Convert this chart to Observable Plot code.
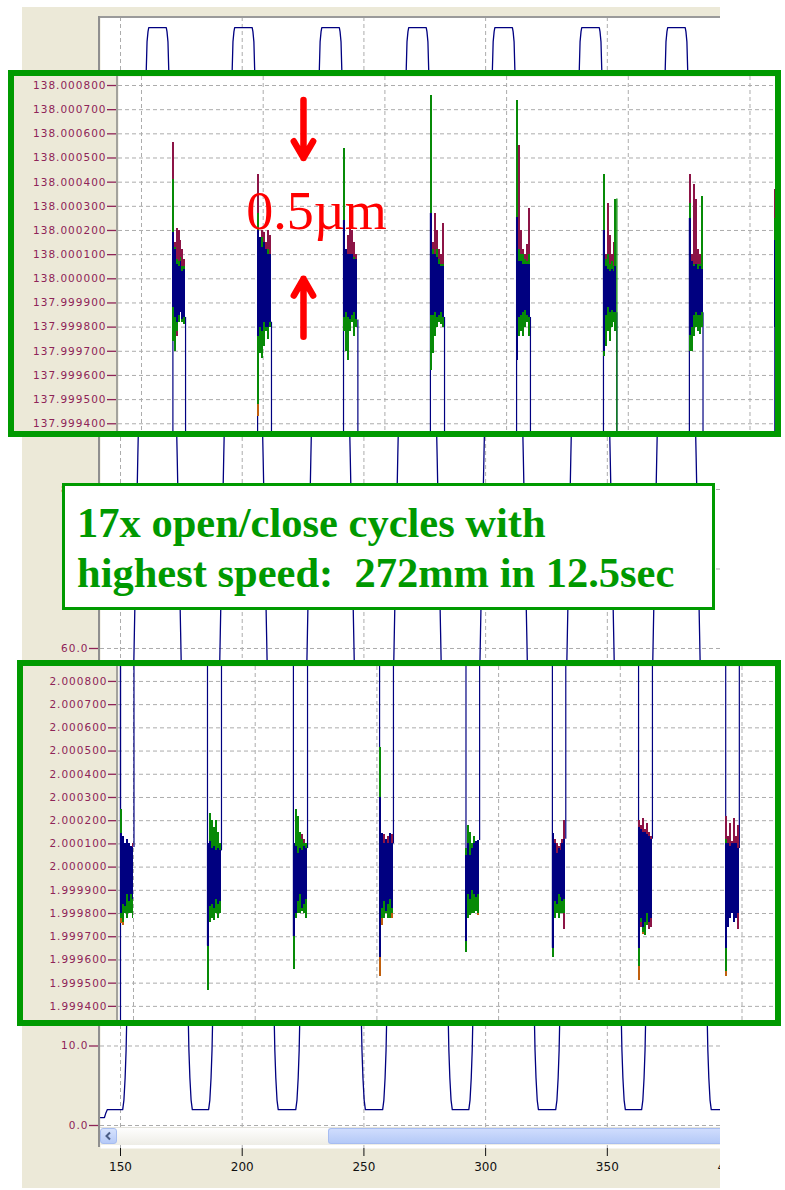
<!DOCTYPE html>
<html>
<head>
<meta charset="utf-8">
<script src="https://cdn.jsdelivr.net/npm/d3@7"></script>
<script src="https://cdn.jsdelivr.net/npm/@observablehq/plot@0.6"></script>
<style>
  body { margin: 0; background: #fff; }
  #page { position: relative; width: 785px; height: 1190px; overflow: hidden; background: #fff; }
  .abs { position: absolute; }
</style>
</head>
<body>
<div id="page"></div>
<script>
// ---------- main position trace (mm over time) ----------
const mainXTicks = [150, 200, 250, 300, 350, 400];
const mainXGrid = [150, 200, 250, 300, 350];
const mainYGrid = [0, 10, 20, 30, 40, 50, 60, 70, 80, 90, 100, 110, 120, 130];
// labels left uncovered by the zoom panels and the note
const mainYLabels = [0, 10, 60, 80];
const mainXDomain = [141.78, 396.5];
const mainYDomain = [-2.893, 139.37];

// start of the record: idle at ~1 mm, then parked at 2 mm
const startTrace = [[141.8, 1.0], [143.4, 1.0], [143.9, 1.5], [144.6, 2.0]];
// centre of each open (138 mm) plateau
const topCenters = [165.2, 200.5, 236.3, 272.0, 307.4, 343.1, 378.4];
// shape of one travel edge: offset from plateau centre -> position (mm)
const rampOffsets = [3.6, 3.9, 4.3, 4.6, 6.5, 8.1, 9.5, 11.0, 12.6, 12.9, 13.3, 13.8, 14.3];
const rampValues  = [138.1, 137.6, 136.3, 133.0, 107, 84, 62, 38, 14, 9.5, 6.0, 3.2, 2.0];
const traceEnd = [396.5, 2.0];

// ---------- upper zoom: 138 mm end position (deviation in µm) ----------
const upperNominal = 138;
const upperTickLabels = ["138.000800","138.000700","138.000600","138.000500","138.000400","138.000300",
  "138.000200","138.000100","138.000000","137.999900","137.999800","137.999700","137.999600",
  "137.999500","137.999400"];
const upperXDomain = [140.55, 410.48];
const upperYDomain = [-0.632, 0.8373];
const upperSpans = [[162.9,168.1],[197.7,203.4],[233.0,238.9],[268.7,274.5],[304.1,309.8],[339.8,345.3],[375.1,380.7],[410.2,410.6]];
const upperNavy = [
  [[-0.12,0.19],[-0.16,0.12],[-0.18,0.06],[-0.15,0.05],[-0.14,0.07],[-0.17,0.03],[-0.16,0.04]],
  [[-0.24,0.20],[-0.20,0.17],[-0.22,0.13],[-0.18,0.15],[-0.20,0.12],[-0.20,0.10],[-0.18,0.10]],
  [[-0.16,0.24],[-0.14,0.12],[-0.16,0.10],[-0.17,0.10],[-0.15,0.10],[-0.14,0.08],[-0.17,0.08]],
  [[-0.15,0.27],[-0.15,0.10],[-0.14,0.10],[-0.16,0.09],[-0.15,0.06],[-0.14,0.05],[-0.16,0.05]],
  [[-0.34,0.255],[-0.16,0.07],[-0.15,0.07],[-0.14,0.06],[-0.13,0.06],[-0.15,0.06],[-0.16,0.06]],
  [[-0.30,0.20],[-0.15,0.05],[-0.12,0.04],[-0.14,0.03],[-0.13,0.04],[-0.14,0.03],[-0.14,0.05]],
  [[-0.235,0.25],[-0.20,0.07],[-0.15,0.05],[-0.14,0.06],[-0.15,0.04],[-0.15,0.05],[-0.14,0.04]],
  [[-0.20,0.16]]
];
const upperGreen = [
  [[-0.26,0.41],[-0.30,0.13],[-0.22,0.08],[-0.18,0.07],[-0.12,0.09],[-0.18,0.05],[-0.19,0.05]],
  [[-0.52,0.27],[-0.31,0.10],[-0.33,0.17],[-0.28,0.12],[-0.22,0.10],[-0.25,0.12],[-0.20,0.08]],
  [[-0.22,0.54],[-0.30,0.10],[-0.34,0.09],[-0.22,0.10],[-0.18,0.08],[-0.24,0.09],[-0.20,0.07]],
  [[-0.38,0.76],[-0.31,0.12],[-0.24,0.10],[-0.20,0.12],[-0.18,0.08],[-0.19,0.06],[-0.20,0.06]],
  [[-0.32,0.74],[-0.24,0.12],[-0.22,0.10],[-0.24,0.10],[-0.20,0.08],[-0.18,0.07],[-0.24,0.10]],
  [[-0.32,0.43],[-0.28,0.08],[-0.22,0.10],[-0.26,0.06],[-0.20,0.07],[-0.18,0.05],[-0.22,0.33]],
  [[-0.30,0.31],[-0.30,0.07],[-0.24,0.06],[-0.20,0.05],[-0.22,0.06],[-0.23,0.06],[-0.20,0.34]],
  [[-0.20,0.25]]
];
const upperMaroon = [
  [[-0.14,0.565],[-0.20,0.15],[-0.24,0.21],[-0.16,0.20],[-0.14,0.16],[-0.17,0.12],[-0.17,0.08]],
  [[-0.20,0.43],[-0.22,0.14],[-0.20,0.20],[-0.19,0.19],[-0.20,0.15],[-0.20,0.20],[-0.18,0.18]],
  [[-0.14,0.30],[-0.16,0.12],[-0.18,0.18],[-0.20,0.24],[-0.16,0.20],[-0.14,0.15],[-0.15,0.10]],
  [[-0.15,0.30],[-0.20,0.15],[-0.24,0.27],[-0.18,0.20],[-0.16,0.12],[-0.15,0.10],[-0.17,0.23]],
  [[-0.16,0.20],[-0.18,0.55],[-0.17,0.20],[-0.16,0.12],[-0.15,0.10],[-0.16,0.14],[-0.18,0.29]],
  [[-0.14,0.20],[-0.16,0.10],[-0.14,0.31],[-0.15,0.18],[-0.14,0.10],[-0.15,0.15],[-0.15,0.08]],
  [[-0.14,0.43],[-0.17,0.10],[-0.16,0.39],[-0.16,0.33],[-0.15,0.12],[-0.14,0.10],[-0.15,0.08]],
  [[-0.20,0.37]]
];
// [cycle, column, low, high]
const upperOrange = [[1, 0, -0.57, -0.50]];
// cycles whose closing move is traced in green on top
const upperGreenExit = [5];

// ---------- lower zoom: 2 mm end position (deviation in µm) ----------
const lowerNominal = 2;
const lowerTickLabels = ["2.000800","2.000700","2.000600","2.000500","2.000400","2.000300","2.000200",
  "2.000100","2.000000","1.999900","1.999800","1.999700","1.999600","1.999500","1.999400"];
const lowerXDomain = [143.84, 413.76];
const lowerYDomain = [-0.6609, 0.8643];
const lowerSpans = [[144.66,150.2],[180.4,186.15],[215.7,221.5],[251.1,256.8],[286.6,292.2],[322.1,327.6],[357.5,363.2],[393.3,398.9]];
const lowerNavy = [
  [[-0.20,0.145],[-0.16,0.13],[-0.17,0.10],[-0.12,0.12],[-0.15,0.10],[-0.12,0.09],[-0.14,0.085]],
  [[-0.34,0.10],[-0.17,0.11],[-0.16,0.08],[-0.18,0.09],[-0.14,0.07],[-0.16,0.08],[-0.15,0.07]],
  [[-0.30,0.10],[-0.20,0.09],[-0.15,0.06],[-0.12,0.08],[-0.18,0.07],[-0.16,0.09],[-0.14,0.08]],
  [[-0.39,0.30],[-0.18,0.145],[-0.15,0.10],[-0.19,0.12],[-0.16,0.10],[-0.14,0.145],[-0.18,0.10]],
  [[-0.32,0.05],[-0.12,0.10],[-0.14,0.05],[-0.10,0.08],[-0.12,0.10],[-0.13,0.11],[-0.12,0.115]],
  [[-0.35,0.145],[-0.15,0.10],[-0.16,0.06],[-0.12,0.08],[-0.13,0.07],[-0.15,0.10],[-0.14,0.12]],
  [[-0.35,0.17],[-0.22,0.16],[-0.26,0.15],[-0.24,0.15],[-0.20,0.14],[-0.24,0.13],[-0.22,0.12]],
  [[-0.35,0.10],[-0.26,0.10],[-0.22,0.09],[-0.20,0.10],[-0.24,0.10],[-0.22,0.10],[-0.20,0.08]]
];
const lowerGreen = [
  [[-0.22,0.25],[-0.24,0.08],[-0.20,0.07],[-0.22,0.06],[-0.20,0.07],[-0.20,0.06],[-0.22,0.05]],
  [[-0.53,0.10],[-0.24,0.23],[-0.22,0.20],[-0.23,0.17],[-0.20,0.20],[-0.22,0.15],[-0.20,0.10]],
  [[-0.44,0.10],[-0.22,0.25],[-0.20,0.22],[-0.20,0.15],[-0.19,0.12],[-0.20,0.10],[-0.22,0.10]],
  [[-0.20,0.515],[-0.22,0.08],[-0.22,0.06],[-0.20,0.06],[-0.22,0.07],[-0.22,0.07],[-0.20,0.06]],
  [[-0.37,0.08],[-0.22,0.18],[-0.21,0.15],[-0.20,0.10],[-0.20,0.13],[-0.19,0.08],[-0.20,0.07]],
  [[-0.39,0.10],[-0.22,0.08],[-0.20,0.06],[-0.22,0.06],[-0.20,0.06],[-0.20,0.07],[-0.20,0.08]],
  [[-0.43,0.10],[-0.24,0.10],[-0.28,0.10],[-0.295,0.09],[-0.25,0.10],[-0.24,0.10],[-0.22,0.08]],
  [[-0.45,0.12],[-0.23,0.10],[-0.20,0.08],[-0.20,0.09],[-0.22,0.09],[-0.21,0.08],[-0.20,0.06]]
];
const lowerMaroon = [
  [[-0.18,0.10],[-0.16,0.10],[-0.18,0.09],[-0.14,0.10],[-0.17,0.10],[-0.16,0.09],[-0.15,0.10]],
  [[-0.15,0.10],[-0.16,0.10],[-0.17,0.12],[-0.16,0.16],[-0.15,0.12],[-0.14,0.10],[-0.15,0.08]],
  [[-0.15,0.09],[-0.15,0.10],[-0.14,0.10],[-0.14,0.10],[-0.16,0.14],[-0.15,0.12],[-0.15,0.10]],
  [[-0.15,0.10],[-0.16,0.12],[-0.17,0.14],[-0.16,0.12],[-0.16,0.13],[-0.17,0.145],[-0.16,0.14]],
  [[-0.14,0.05],[-0.14,0.08],[-0.15,0.07],[-0.13,0.08],[-0.14,0.07],[-0.15,0.08],[-0.19,0.09]],
  [[-0.14,0.145],[-0.15,0.12],[-0.14,0.10],[-0.14,0.09],[-0.15,0.10],[-0.20,0.12],[-0.27,0.20]],
  [[-0.22,0.20],[-0.26,0.18],[-0.25,0.21],[-0.24,0.16],[-0.23,0.19],[-0.27,0.15],[-0.26,0.13]],
  [[-0.20,0.22],[-0.22,0.13],[-0.20,0.19],[-0.20,0.11],[-0.22,0.21],[-0.20,0.13],[-0.27,0.18]]
];
const lowerOrange = [[0,0,-0.245,-0.20],[0,1,-0.25,-0.20],[3,0,-0.47,-0.35],[3,1,-0.25,-0.20],[3,6,-0.22,-0.10],
  [4,6,-0.21,-0.10],[6,0,-0.49,-0.40],[6,2,-0.29,-0.24],[7,0,-0.47,-0.40]];
// moves that cross the whole 2 mm window
const lowerPassLines = [144.66];

const insetXGrid = [150, 200, 250, 300, 350, 400];

// 0.5 µm bracket on the upper zoom
const bracketLow = 0.0, bracketHigh = 0.5, bracketTail = 0.24;
const bracketX = 216.55;
const bracketLabel = {text: "0.5µm", x: 221.9, y: 0.208};

const noteLines = ["17x open/close cycles with", "highest speed:  272mm in 12.5sec"];

// ---------- styling ----------
const beige = "#ECE9D8";
const gridColor = "#acacac";
const maroon = "#8e2457";
const navy = "#000080";
const green = "#078a07";
const maroonTrace = "#8c1446";
const orange = "#c0600e";
const boxGreen = "#009a00";
const labelFont = "DejaVu Sans";

const page = document.getElementById("page");
function div(style, parent = page) {
  const d = document.createElement("div");
  d.className = "abs";
  Object.assign(d.style, style);
  parent.appendChild(d);
  return d;
}
function spaceLabels(svg) {
  svg.querySelectorAll('g[aria-label="y-axis tick label"]').forEach(g => g.setAttribute("letter-spacing", "1"));
}

// window background
div({left: "22px", top: "7px", width: "698px", height: "1181px", background: beige});

// ---------- main chart ----------
const trace = startTrace.map(([t, v]) => ({t, v}));
for (const c of topCenters) {
  for (let k = rampOffsets.length - 1; k >= 0; k--) trace.push({t: c - rampOffsets[k], v: rampValues[k]});
  for (let k = 0; k < rampOffsets.length; k++) trace.push({t: c + rampOffsets[k], v: rampValues[k]});
}
trace.push({t: traceEnd[0], v: traceEnd[1]});

const mainWrap = div({left: "0px", top: "0px", width: "720px", height: "1188px", overflow: "hidden"});
const mainPlot = Plot.plot({
  width: 720, height: 1188,
  marginLeft: 100, marginRight: 0, marginTop: 17, marginBottom: 40,
  x: {domain: mainXDomain, label: null},
  y: {domain: mainYDomain, label: null},
  style: {background: "transparent", overflow: "hidden"},
  marks: [
    Plot.frame({fill: "white", stroke: "none"}),
    Plot.gridY(mainYGrid, {stroke: gridColor, strokeOpacity: 1, strokeDasharray: "4,3"}),
    Plot.gridX(mainXGrid, {stroke: gridColor, strokeOpacity: 1, strokeDasharray: "4,3"}),
    Plot.axisY(mainYLabels, {tickSize: 11, tickPadding: 1, tickFormat: d3.format(".1f"), color: maroon,
      strokeWidth: 1.3, fontSize: 10.5, fontFamily: labelFont}),
    Plot.axisX(mainXTicks, {tickSize: 8, tickPadding: 6, color: "#111", fontSize: 12, fontFamily: labelFont}),
    Plot.line(trace, {x: "t", y: "v", stroke: navy, strokeWidth: 1.3, clip: true})
  ]
});
spaceLabels(mainPlot);
mainWrap.appendChild(mainPlot);

// plot window borders and scroll bar
div({left: "98px", top: "16px", width: "622px", height: "1.5px", background: "#9a9a9a"});
div({left: "98px", top: "16px", width: "2px", height: "1131px", background: "#8f8f8f"});
div({left: "100px", top: "1127px", width: "620px", height: "18px",
  background: "linear-gradient(#fefefe, #eeede6)", borderTop: "1px solid #e2e1da", boxSizing: "border-box"});
const btn = div({left: "100px", top: "1128px", width: "17px", height: "16px", borderRadius: "3px",
  background: "linear-gradient(#d6e2fd, #b6caf7)", border: "1px solid #a7bdf0", boxSizing: "border-box"});
btn.innerHTML = '<svg width="15" height="14" style="display:block"><polyline points="9,3.5 5.5,7 9,10.5" fill="none" stroke="#4a5d86" stroke-width="2"/></svg>';
div({left: "328px", top: "1128px", width: "392px", height: "16px", borderRadius: "3px 0 0 3px",
  background: "linear-gradient(#cfdcfd, #b4c9f7)", borderTop: "1px solid #a7bdf1", borderBottom: "1px solid #a7bdf1",
  borderLeft: "1px solid #a7bdf1", boxSizing: "border-box"});

// ---------- zoom insets ----------
function columnRects(spans, series) {
  const out = [];
  spans.forEach(([t0, t1], c) => {
    const cols = series[c];
    const w = (t1 - t0) / cols.length;
    cols.forEach(([lo, hi], i) => out.push({x1: t0 + i * w, x2: t0 + (i + 1) * w, lo, hi}));
  });
  return out;
}
function tipRects(spans, navySeries, tips) {
  return tips.map(([c, i, lo, hi]) => {
    const [t0, t1] = spans[c];
    const w = (t1 - t0) / navySeries[c].length;
    return {x1: t0 + i * w, x2: t0 + (i + 1) * w, lo, hi};
  });
}
function traceMarks(spans, navyS, greenS, maroonS, tips) {
  const opts = {x1: "x1", x2: "x2", y1: "lo", y2: "hi", clip: true, shapeRendering: "crispEdges"};
  return [
    Plot.rect(tipRects(spans, navyS, tips), {...opts, fill: orange}),
    Plot.rect(columnRects(spans, maroonS), {...opts, fill: maroonTrace}),
    Plot.rect(columnRects(spans, greenS), {...opts, fill: green}),
    Plot.rect(columnRects(spans, navyS), {...opts, fill: navy})
  ];
}
function insetFrame(left, top, width, height) {
  return div({left: left + "px", top: top + "px", width: width + "px", height: height + "px",
    boxSizing: "border-box", border: "6px solid " + boxGreen, background: beige});
}

// upper: 138 mm
const upperTicks = upperTickLabels.map(s => (Number(s) - upperNominal) * 1000);
const upperEdges = [];
upperSpans.forEach(([t0, t1], c) => {
  const cols = upperNavy[c];
  upperEdges.push({t: t0, a: -1, b: cols[0][1]});
  upperEdges.push({t: t1, a: -1, b: cols[cols.length - 1][0]});
});
const upperGreenEdges = upperGreenExit.map(c => ({t: upperSpans[c][1], a: -1, b: upperGreen[c][upperGreen[c].length - 1][1]}));
const bracket = [
  {y1: bracketHigh + bracketTail, y2: bracketHigh},
  {y1: bracketLow - bracketTail, y2: bracketLow}
];

const upperBox = insetFrame(8, 70, 773, 367);
const upperPlot = Plot.plot({
  width: 761, height: 355,
  marginLeft: 104, marginRight: 0, marginTop: 0, marginBottom: 0,
  x: {domain: upperXDomain, label: null, axis: null},
  y: {domain: upperYDomain, label: null},
  style: {background: "transparent", overflow: "hidden"},
  marks: [
    Plot.frame({fill: "white", stroke: "none"}),
    Plot.gridY(upperTicks, {stroke: gridColor, strokeOpacity: 1, strokeDasharray: "4,3"}),
    Plot.gridX(insetXGrid, {stroke: gridColor, strokeOpacity: 1, strokeDasharray: "4,3"}),
    Plot.axisY(upperTicks, {tickSize: 11, tickPadding: 1, color: maroon, strokeWidth: 1.3,
      tickFormat: d => (upperNominal + d / 1000).toFixed(6), fontSize: 10.5, fontFamily: labelFont}),
    Plot.ruleX(upperEdges, {x: "t", y1: "a", y2: "b", stroke: navy, strokeWidth: 1.2, clip: true}),
    ...traceMarks(upperSpans, upperNavy, upperGreen, upperMaroon, upperOrange),
    Plot.ruleX(upperGreenEdges, {x: "t", y1: "a", y2: "b", stroke: green, strokeWidth: 1.3, clip: true}),
    Plot.arrow(bracket, {x: bracketX, y1: "y1", y2: "y2", stroke: "#ff0000", strokeWidth: 6.5, headLength: 8, headAngle: 60}),
    Plot.text([bracketLabel], {x: "x", y: "y", text: "text", fill: "#ff0000", fontSize: 54,
      fontFamily: "Liberation Serif", textAnchor: "middle", lineAnchor: "bottom"})
  ]
});
spaceLabels(upperPlot);
upperPlot.style.display = "block";
upperBox.appendChild(upperPlot);
div({left: "102px", top: "0px", width: "2px", height: "355px", background: "#a3a29c"}, upperBox);

// lower: 2 mm
const lowerTicks = lowerTickLabels.map(s => (Number(s) - lowerNominal) * 1000);
const lowerEdges = [];
lowerSpans.forEach(([t0, t1], c) => {
  const cols = lowerNavy[c];
  lowerEdges.push({t: t0, a: cols[0][0], b: 1});
  lowerEdges.push({t: t1, a: cols[cols.length - 1][1], b: 1});
});
lowerPassLines.forEach(t => lowerEdges.push({t, a: -1, b: 1}));

const lowerBox = insetFrame(17, 660, 764, 366);
const lowerPlot = Plot.plot({
  width: 752, height: 354,
  marginLeft: 95, marginRight: 0, marginTop: 0, marginBottom: 0,
  x: {domain: lowerXDomain, label: null, axis: null},
  y: {domain: lowerYDomain, label: null},
  style: {background: "transparent", overflow: "hidden"},
  marks: [
    Plot.frame({fill: "white", stroke: "none"}),
    Plot.gridY(lowerTicks, {stroke: gridColor, strokeOpacity: 1, strokeDasharray: "4,3"}),
    Plot.gridX(insetXGrid, {stroke: gridColor, strokeOpacity: 1, strokeDasharray: "4,3"}),
    Plot.axisY(lowerTicks, {tickSize: 10, tickPadding: 1, color: maroon, strokeWidth: 1.3,
      tickFormat: d => (lowerNominal + d / 1000).toFixed(6), fontSize: 10.5, fontFamily: labelFont}),
    Plot.ruleX(lowerEdges, {x: "t", y1: "a", y2: "b", stroke: navy, strokeWidth: 1.2, clip: true}),
    ...traceMarks(lowerSpans, lowerNavy, lowerGreen, lowerMaroon, lowerOrange)
  ]
});
spaceLabels(lowerPlot);
lowerPlot.style.display = "block";
lowerBox.appendChild(lowerPlot);
div({left: "93px", top: "0px", width: "2px", height: "354px", background: "#a3a29c"}, lowerBox);

// ---------- note box ----------
const note = div({left: "62px", top: "483px", width: "653px", height: "127px", boxSizing: "border-box",
  border: "3px solid " + boxGreen, background: "#fff"});
const noteText = div({left: "12px", top: "11.6px", font: "bold 42.5px/50px 'Liberation Serif'",
  color: "#009900", whiteSpace: "pre"}, note);
noteText.textContent = noteLines.join("\n");
</script>
</body>
</html>
